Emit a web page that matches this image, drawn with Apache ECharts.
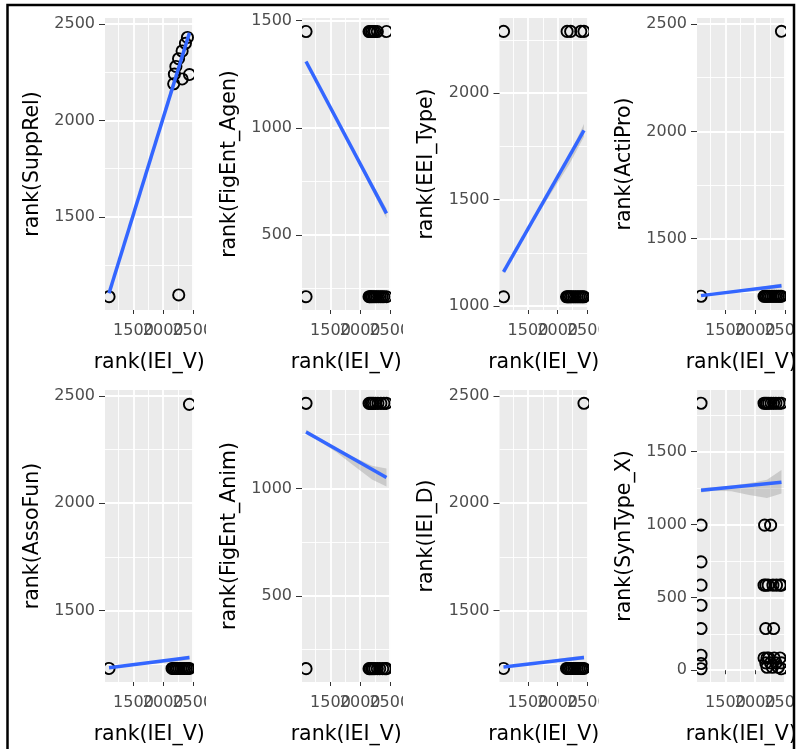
<!DOCTYPE html>
<html><head><meta charset="utf-8">
<script src="https://cdn.jsdelivr.net/npm/echarts@6/dist/echarts.min.js"></script>
<style>html,body{margin:0;padding:0;background:#fff}#c{width:800px;height:749px}</style>
</head><body><div id="c"></div>
<script>
// ---------- shared x variable ----------
const xName = 'rank(IEI_V)';
const xRange = [1020, 2512];
const xMajorTicks = [1500, 2000, 2500];
const xMinorTicks = [1250, 1750, 2250];
const bandX = [1088, 1300, 1600, 1900, 2200, 2444];

// ---------- panel y variables ----------
const yNames = ['rank(SuppRel)', 'rank(FigEnt_Agen)', 'rank(EEI_Type)', 'rank(ActiPro)',
                'rank(AssoFun)', 'rank(FigEnt_Anim)', 'rank(IEI_D)', 'rank(SynType_X)'];
const yRanges = [[1018, 2531], [150, 1512], [982, 2353], [1168, 2528],
                 [1166, 2528], [100, 1458], [1166, 2528], [-81, 1924]];
const yMajorTicks = [[1500, 2000, 2500], [500, 1000, 1500], [1000, 1500, 2000], [1500, 2000, 2500],
                     [1500, 2000, 2500], [500, 1000], [1500, 2000, 2500], [0, 500, 1000, 1500]];
const yMinorTicks = [[1250, 1750, 2250], [250, 750, 1250], [1250, 1750, 2250], [1250, 1750, 2250],
                     [1250, 1750, 2250], [250, 750, 1250], [1250, 1750, 2250], [250, 750, 1250, 1750]];

// ---------- points ----------
const suppRelPoints = [[1088,1087],[2263,1096],[2178,2190],[2190,2240],[2215,2280],[2260,2320],
  [2320,2360],[2376,2400],[2410,2430],[2444,2238],[2320,2215]];
const figEntAgenPoints = [[1088,1449],[2150,1449],[2170,1449],[2195,1449],[2225,1449],[2250,1449],[2290,1449],[2444,1449],
  [1088,212],[2150,212],[2165,212],[2185,212],[2205,212],[2230,212],[2255,212],[2280,212],[2310,212],[2340,212],[2370,212],[2400,212],[2444,212]];
const eeiTypePoints = [[1088,2290],[2160,2290],[2220,2290],[2390,2290],[2444,2290],
  [1088,1044],[2150,1044],[2170,1044],[2190,1044],[2215,1044],[2240,1044],[2270,1044],[2300,1044],[2330,1044],[2360,1044],[2390,1044],[2420,1044],[2444,1044]];
const actiProPoints = [[1088,1232],[2150,1232],[2170,1232],[2190,1232],[2215,1232],[2240,1232],[2270,1232],[2300,1232],
  [2330,1232],[2360,1232],[2390,1232],[2420,1232],[2444,1232],[2444,2466]];
const assoFunPoints = [[1088,1229],[2150,1229],[2170,1229],[2190,1229],[2215,1229],[2240,1229],[2270,1229],[2300,1229],
  [2330,1229],[2360,1229],[2390,1229],[2420,1229],[2444,1229],[2444,2461]];
const figEntAnimPoints = [[1088,1396],[2150,1396],[2175,1396],[2200,1396],[2225,1396],[2260,1396],[2300,1396],[2350,1396],[2400,1396],[2444,1396],
  [1088,162],[2150,162],[2170,162],[2195,162],[2220,162],[2250,162],[2290,162],[2330,162],[2380,162],[2420,162],[2444,162]];
const ieiDPoints = [[1088,1229],[2150,1229],[2170,1229],[2190,1229],[2215,1229],[2240,1229],[2270,1229],[2300,1229],
  [2330,1229],[2360,1229],[2390,1229],[2420,1229],[2444,1229],[2444,2466]];
const synTypeXPoints = [[1088,1833],[1088,996],[1088,744],[1088,584],[1088,446],[1088,286],[1088,103],[1088,46],[1088,10],
  [2150,1833],[2175,1833],[2200,1833],[2230,1833],[2270,1833],[2310,1833],[2350,1833],[2400,1833],[2444,1833],
  [2160,996],[2261,996],
  [2150,584],[2180,584],[2220,584],[2300,584],[2360,584],[2420,584],[2444,584],
  [2178,286],[2312,286],
  [2150,84],[2180,50],[2200,20],[2230,84],[2260,50],[2290,20],[2320,84],[2350,50],[2390,20],[2420,84],[2444,50],[2200,84],[2444,10]];

// ---------- linear fits (endpoints) ----------
const suppRelFit = [[1088,1105],[2444,2454]];
const figEntAgenFit = [[1088,1309],[2444,601]];
const eeiTypeFit = [[1088,1161],[2444,1825]];
const actiProFit = [[1088,1235],[2444,1281]];
const assoFunFit = [[1088,1232],[2444,1280]];
const figEntAnimFit = [[1088,1263],[2444,1051]];
const ieiDFit = [[1088,1236],[2444,1280]];
const synTypeXFit = [[1088,1236],[2444,1290]];

// ---------- confidence band (lower / upper at bandX) ----------
const suppRelLow  = [1100,1311,1620,1926,2228,2444];
const suppRelHigh = [1110,1317,1626,1934,2240,2464];
const figEntAgenLow  = [1303,1196,1037,874,710,578];
const figEntAgenHigh = [1315,1206,1049,896,742,624];
const eeiTypeLow  = [1153,1258,1400,1535,1668,1795];
const eeiTypeHigh = [1169,1270,1416,1563,1712,1855];
const actiProLow  = [1232,1239,1248,1256,1264,1271];
const actiProHigh = [1238,1245,1256,1268,1280,1291];
const assoFunLow  = [1229,1236,1245,1253,1261,1270];
const assoFunHigh = [1235,1242,1253,1265,1277,1290];
const figEntAnimLow  = [1253,1222,1169,1105,1042,1009];
const figEntAnimHigh = [1273,1238,1189,1145,1106,1093];
const ieiDLow  = [1233,1240,1249,1257,1265,1270];
const ieiDHigh = [1239,1246,1257,1269,1281,1290];
const synTypeXLow  = [1221,1233,1228,1203,1183,1213];
const synTypeXHigh = [1251,1257,1268,1283,1307,1374];

const panelPoints = [suppRelPoints, figEntAgenPoints, eeiTypePoints, actiProPoints,
                     assoFunPoints, figEntAnimPoints, ieiDPoints, synTypeXPoints];
const panelFits = [suppRelFit, figEntAgenFit, eeiTypeFit, actiProFit,
                   assoFunFit, figEntAnimFit, ieiDFit, synTypeXFit];
const panelLow = [suppRelLow, figEntAgenLow, eeiTypeLow, actiProLow, assoFunLow, figEntAnimLow, ieiDLow, synTypeXLow];
const panelHigh = [suppRelHigh, figEntAgenHigh, eeiTypeHigh, actiProHigh, assoFunHigh, figEntAnimHigh, ieiDHigh, synTypeXHigh];

// ---------- layout ----------
const FONT = 'DejaVu Sans';
const lefts = [105, 302, 499.5, 697];
const tops = [18, 390];
const W = 88.5, H = 292;
const plain = v => String(v);
// x labels are split over two label axes so overlapping labels are all drawn
const xLabelsOuter = xMajorTicks.filter((v, k) => k % 2 === 0);
const xLabelsMiddle = xMajorTicks.filter((v, k) => k % 2 === 1);

const grids = [], xAxes = [], yAxes = [], series = [];
const xLabelStyle = {formatter: plain, showMinLabel: true, showMaxLabel: true, hideOverlap: false,
  color: '#4D4D4D', fontSize: 16, fontFamily: FONT, margin: 13};
for (let i = 0; i < 8; i++) {
  const col = i % 4, row = Math.floor(i / 4);
  grids.push({left: lefts[col], top: tops[row], width: W, height: H, show: true,
    backgroundColor: '#EBEBEB', borderWidth: 0, containLabel: false, outerBoundsMode: 'none'});
  const xi = xAxes.length;
  xAxes.push({gridIndex: i, type: 'value', min: xRange[0], max: xRange[1], position: 'bottom',
    axisLine: {show: false},
    axisTick: {show: true, length: 4, lineStyle: {color: '#333333', width: 1}, customValues: xMajorTicks},
    axisLabel: Object.assign({customValues: xLabelsOuter}, xLabelStyle),
    splitLine: {show: true, lineStyle: {color: '#FFFFFF', width: 1.8}},
    name: xName, nameLocation: 'middle', nameGap: 42, nameMoveOverlap: false,
    nameTextStyle: {color: '#000', fontSize: 20.5, fontFamily: FONT}});
  xAxes.push({gridIndex: i, type: 'value', min: xRange[0], max: xRange[1], position: 'bottom',
    axisLine: {show: false}, axisTick: {show: false, customValues: xLabelsMiddle},
    axisLabel: Object.assign({customValues: xLabelsMiddle}, xLabelStyle),
    splitLine: {show: false}});
  xAxes.push({gridIndex: i, type: 'value', min: xRange[0], max: xRange[1], position: 'top',
    axisLine: {show: false}, axisTick: {show: false, customValues: xMinorTicks},
    axisLabel: {show: false, customValues: xMinorTicks},
    splitLine: {show: true, lineStyle: {color: '#FFFFFF', width: 0.9}}});
  const yi = yAxes.length;
  yAxes.push({gridIndex: i, type: 'value', min: yRanges[i][0], max: yRanges[i][1], position: 'left',
    axisLine: {show: false},
    axisTick: {show: true, length: 6, lineStyle: {color: '#333333', width: 1}, customValues: yMajorTicks[i]},
    axisLabel: {customValues: yMajorTicks[i], formatter: plain, showMinLabel: true, showMaxLabel: true, hideOverlap: false,
      color: '#4D4D4D', fontSize: 16, fontFamily: FONT, margin: 10},
    splitLine: {show: true, lineStyle: {color: '#FFFFFF', width: 1.8}},
    name: yNames[i], nameLocation: 'middle', nameGap: 62, nameMoveOverlap: false,
    nameTextStyle: {color: '#000', fontSize: 20.5, fontFamily: FONT}});
  yAxes.push({gridIndex: i, type: 'value', min: yRanges[i][0], max: yRanges[i][1], position: 'right',
    axisLine: {show: false}, axisTick: {show: false, customValues: yMinorTicks[i]},
    axisLabel: {show: false, customValues: yMinorTicks[i]},
    splitLine: {show: true, lineStyle: {color: '#FFFFFF', width: 0.9}}});

  // open circles, clipped to the panel like ggplot
  series.push({type: 'custom', xAxisIndex: xi, yAxisIndex: yi, data: panelPoints[i],
    clip: true, silent: true, z: 2,
    renderItem: function (params, api) {
      const p = api.coord([api.value(0), api.value(1)]);
      return {type: 'circle', shape: {cx: p[0], cy: p[1], r: 5.6},
        style: {fill: 'none', stroke: '#000', lineWidth: 1.9}};
    }});
  const low = panelLow[i], high = panelHigh[i];
  series.push({type: 'custom', xAxisIndex: xi, yAxisIndex: yi, clip: true, silent: true, z: 3,
    data: [[bandX[0], low[0]]],
    renderItem: function (params, api) {
      const pts = [];
      for (let k = 0; k < bandX.length; k++) pts.push(api.coord([bandX[k], high[k]]));
      for (let k = bandX.length - 1; k >= 0; k--) pts.push(api.coord([bandX[k], low[k]]));
      return {type: 'polygon', shape: {points: pts}, style: {fill: 'rgba(153,153,153,0.4)'}};
    }});
  series.push({type: 'line', xAxisIndex: xi, yAxisIndex: yi, data: panelFits[i], showSymbol: false,
    silent: true, z: 4, lineStyle: {color: '#3366FF', width: 3.5}});
}

// overflow masks between plot cells and frame
const graphic = [];
[206, 403, 599].forEach(x => {
  graphic.push({type: 'rect', z: 100, shape: {x: x, y: 312, width: 74, height: 60}, style: {fill: '#fff'}});
  graphic.push({type: 'rect', z: 100, shape: {x: x, y: 684, width: 74, height: 65}, style: {fill: '#fff'}});
});
graphic.push({type: 'rect', z: 100, shape: {x: 795, y: 0, width: 10, height: 749}, style: {fill: '#fff'}});
graphic.push({type: 'rect', z: 101, shape: {x: 7.5, y: 5, width: 786.5, height: 760},
  style: {fill: 'none', stroke: '#000', lineWidth: 2.5}});

const chart = echarts.init(document.getElementById('c'), null, {renderer: 'canvas'});
chart.setOption({animation: false, backgroundColor: '#fff', grid: grids, xAxis: xAxes, yAxis: yAxes,
  series: series, graphic: graphic});
</script></body></html>
